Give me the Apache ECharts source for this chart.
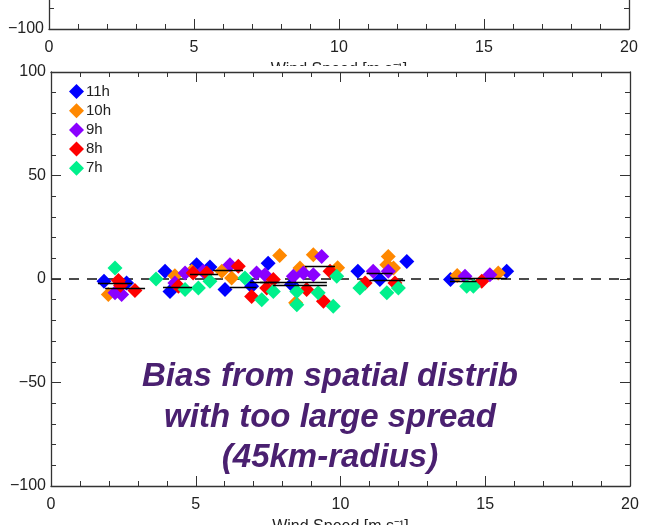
<!DOCTYPE html>
<html>
<head>
<meta charset="utf-8">
<script src="https://cdn.jsdelivr.net/npm/echarts@6/dist/echarts.min.js"></script>
<style>html,body{margin:0;padding:0;background:#fff}#c{width:649px;height:525px}</style>
</head>
<body>
<div id="c"></div>
<script>
// ---- data ----
const seriesNames = ['11h', '10h', '9h', '8h', '7h'];
const seriesColors = ['#0000ff', '#ff8800', '#8a00ff', '#ff0000', '#00f08c'];
const xTicks = [0, 5, 10, 15, 20];
const yTicks = [-100, -50, 0, 50, 100];
const xTitle = 'Wind Speed [m s\u207B\u00B9]';
const noteLines = ['Bias from spatial distrib', 'with too large spread', '(45km-radius)'];

const data11h = [[1.83,-1.1],[2.61,-1.9],[3.94,3.7],[4.11,-6],[5.03,6.9],[5.49,5.8],[6.01,-5.1],[6.93,-3.5],[7.5,7.6],[8.31,-2.7],[10.6,3.7],[11.36,-0.3],[12.29,8.5],[13.8,-0.3],[15.74,3.7]];
const data10h = [[1.98,-7.5],[4.28,1.6],[4.86,3.7],[5.9,3.7],[6.24,0.5],[7.9,11.3],[8.6,5.3],[8.45,-11.5],[9.06,11.7],[9.9,5.4],[11.65,10.9],[11.6,6.9],[11.83,5.3],[14.03,1.7],[15.45,2.9]];
const data9h = [[2.21,-6.7],[2.44,-7.5],[4.28,-1.9],[4.63,2.9],[5.26,3.7],[6.18,6.9],[7.1,2.9],[7.39,2.1],[8.37,1.3],[8.72,2.9],[9.06,2.1],[9.35,10.9],[11.13,3.7],[11.65,3.7],[14.3,1.3],[15.16,2.1]];
const data8h = [[2.33,-0.7],[2.4,-3],[2.9,-5.5],[4.4,-3.5],[4.91,2.9],[5.38,2.9],[6.47,6.1],[6.93,-8.4],[7.45,-4.3],[7.68,-0.3],[8.83,-5.1],[9.41,-10.8],[9.64,3.7],[10.85,-1.9],[11.88,-1.9],[14.88,-1.1]];
const data7h = [[2.21,5.3],[3.63,0],[4.63,-5.1],[5.09,-4.3],[5.49,-1.1],[6.7,0.5],[7.28,-10],[7.68,-6],[8.49,-6],[9.23,-6.7],[8.49,-12.4],[9.75,-13.2],[9.87,1.3],[10.67,-4.3],[11.6,-6.7],[12.0,-4.3],[14.36,-3.5],[14.59,-3.5]];
const seriesData = [data11h, data10h, data9h, data8h, data7h];

// black horizontal spread segments: [xStart, xEnd, y]
const segments = [[1.62,2.8,-1.9],[1.87,3.25,-4.7],[3.87,4.87,-4],[4.8,5.77,2.5],[5.6,6.63,4.1],[6.18,7.1,-4],[6.87,7.9,-1.6],[8.77,9.81,6.4],[7.22,9.53,-1.6],[7.67,9.53,-3.2],[10.9,11.8,3],[11.0,12.23,-0.8],[13.78,14.7,-1.1],[13.78,15.75,0.2]];
const zeroLine = [[0, 0], [20, 0]];

// ---- chart ----
const FONT = 'Liberation Sans';
const fmt = v => String(v).replace('-', '\u2212');
function xAx(grid, pos, labels, name, z) {
  return {
    type: 'value', gridIndex: grid, position: pos, min: 0, max: 20, interval: 5, z: z,
    axisLine: { onZero: false, lineStyle: { color: '#333', width: 1.3 } },
    axisTick: { inside: true, length: 10, lineStyle: { color: '#333' } },
    minorTick: { show: true, splitNumber: 5, length: 5, lineStyle: { color: '#333' } },
    splitLine: { show: false },
    axisLabel: { show: labels, fontFamily: FONT, fontSize: 16, color: '#222', margin: 11 },
    name: name || '', nameLocation: 'middle', nameGap: 33,
    nameTextStyle: { fontFamily: FONT, fontSize: 16, color: '#222' }
  };
}
function yAx(grid, pos, labels, z) {
  return {
    type: 'value', gridIndex: grid, position: pos, min: -100, max: 100, interval: 50, z: z,
    axisLine: { onZero: false, lineStyle: { color: '#333', width: 1.3 } },
    axisTick: { inside: true, length: 10, lineStyle: { color: '#333' } },
    minorTick: { show: true, splitNumber: 5, length: 5, lineStyle: { color: '#333' } },
    splitLine: { show: false },
    axisLabel: { show: labels, fontFamily: FONT, fontSize: 16, color: '#222', margin: 5, formatter: fmt }
  };
}

const series = seriesNames.map((n, i) => ({
  name: n, type: 'scatter', xAxisIndex: 0, yAxisIndex: 0,
  symbol: 'diamond', symbolSize: 15,
  itemStyle: { color: seriesColors[i], opacity: 1 },
  data: seriesData[i], z: 3
}));
series.unshift({
  type: 'line', xAxisIndex: 0, yAxisIndex: 0, data: zeroLine, symbol: 'none',
  lineStyle: { color: '#111', width: 1.3, type: [10, 8] }, z: 2, silent: true
});
series.push({
  type: 'lines', coordinateSystem: 'cartesian2d', xAxisIndex: 0, yAxisIndex: 0,
  data: segments.map(s => ({ coords: [[s[0], s[2]], [s[1], s[2]]] })),
  lineStyle: { color: '#000', width: 1.4, opacity: 1 }, z: 4, silent: true
});

const chart = echarts.init(document.getElementById('c'), null, { renderer: 'canvas' });
chart.setOption({
  backgroundColor: '#fff',
  animation: false,
  grid: [
    { left: 51, right: 19, top: 72, height: 414, outerBoundsMode: 'none', containLabel: false },
    { left: 49, right: 20, bottom: 496, height: 414, outerBoundsMode: 'none', containLabel: false }
  ],
  xAxis: [xAx(0, 'bottom', true, xTitle, 3), xAx(0, 'top', false, '', 3), xAx(1, 'bottom', true, xTitle, 0), xAx(1, 'top', false, '', 0)],
  yAxis: [yAx(0, 'left', true, 3), yAx(0, 'right', false, 3), yAx(1, 'left', true, 0), yAx(1, 'right', false, 0)],
  legend: {
    orient: 'vertical', left: 64, top: 79, itemWidth: 15, itemHeight: 15, itemGap: 4.2, z: 5,
    icon: 'diamond', data: seriesNames,
    textStyle: { fontFamily: FONT, fontSize: 15, color: '#222', padding: [0, 0, 0, -3] }
  },
  graphic: [
    { type: 'rect', z: 1, shape: { x: 47, y: 66, width: 600, height: 30 }, style: { fill: '#fff' } },
    ...noteLines.map((t, i) => ({
      type: 'text', z: 10,
      style: { text: t, x: 330, y: 377 + i * 40.5, textAlign: 'center', textVerticalAlign: 'middle',
               font: 'italic bold 33px "Liberation Sans", Arial, sans-serif', fill: '#4a2070' }
    }))
  ],
  series: series
});
</script>
</body>
</html>
